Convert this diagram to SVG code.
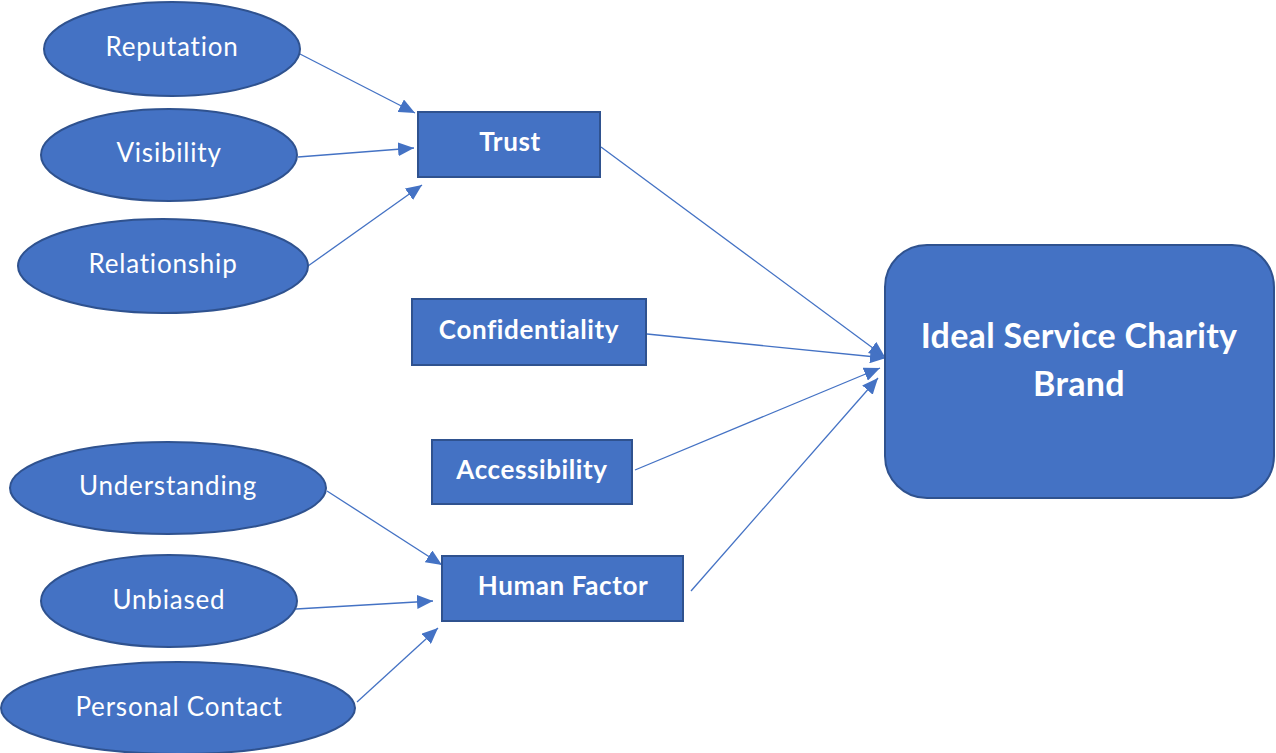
<svg xmlns="http://www.w3.org/2000/svg" width="1276" height="753" viewBox="0 0 1276 753">
  <style>
    .shape { fill: #4472C4; stroke: #2F528F; stroke-width: 2; }
    .lbl { fill: #FFFFFF; font-family: Lato, "Open Sans", "Liberation Sans", sans-serif; font-size: 26px; letter-spacing: 0.8px; text-anchor: middle; }
    .bold { font-weight: bold; letter-spacing: 0.6px; }
    .big { font-size: 34px; font-weight: bold; letter-spacing: 0.3px; }
    .link { stroke: #4472C4; stroke-width: 1.3; fill: none; marker-end: url(#arrow); }
  </style>
  <defs>
    <marker id="arrow" markerUnits="userSpaceOnUse" markerWidth="16" markerHeight="14" refX="16" refY="7" orient="auto">
      <path d="M0,0 L16,7 L0,14 z" fill="#4472C4"/>
    </marker>
  </defs>

  <rect width="1276" height="753" fill="#FFFFFF"/>

  <!-- connectors -->
  <g id="connectors">
    <line class="link" x1="300" y1="54" x2="415" y2="113"/>
    <line class="link" x1="298" y1="157" x2="414" y2="148"/>
    <line class="link" x1="308" y1="266" x2="422" y2="185"/>
    <line class="link" x1="601" y1="147" x2="885" y2="357"/>
    <line class="link" x1="647" y1="334" x2="886" y2="358"/>
    <line class="link" x1="635" y1="470" x2="880" y2="368"/>
    <line class="link" x1="691" y1="591" x2="878" y2="378"/>
    <line class="link" x1="327" y1="491" x2="442" y2="565"/>
    <line class="link" x1="296" y1="609" x2="433" y2="601"/>
    <line class="link" x1="357" y1="702" x2="438" y2="628"/>
  </g>

  <!-- trust drivers -->
  <g id="reputation">
    <ellipse class="shape" cx="172" cy="49" rx="128" ry="47"/>
    <text class="lbl" x="172" y="56">Reputation</text>
  </g>
  <g id="visibility">
    <ellipse class="shape" cx="169" cy="155" rx="128" ry="46"/>
    <text class="lbl" x="169" y="162">Visibility</text>
  </g>
  <g id="relationship">
    <ellipse class="shape" cx="163" cy="266" rx="145" ry="47"/>
    <text class="lbl" x="163" y="273">Relationship</text>
  </g>

  <!-- human factor drivers -->
  <g id="understanding">
    <ellipse class="shape" cx="168" cy="488" rx="158" ry="46"/>
    <text class="lbl" x="168" y="495">Understanding</text>
  </g>
  <g id="unbiased">
    <ellipse class="shape" cx="169" cy="601" rx="128" ry="46"/>
    <text class="lbl" x="169" y="609">Unbiased</text>
  </g>
  <g id="personal-contact">
    <ellipse class="shape" cx="178" cy="708" rx="177" ry="46"/>
    <text class="lbl" x="179" y="716">Personal Contact</text>
  </g>

  <!-- brand dimensions -->
  <g id="trust">
    <rect class="shape" x="418" y="112" width="182" height="65"/>
    <text class="lbl bold" x="510" y="151">Trust</text>
  </g>
  <g id="confidentiality">
    <rect class="shape" x="412" y="299" width="234" height="66"/>
    <text class="lbl bold" x="529" y="339">Confidentiality</text>
  </g>
  <g id="accessibility">
    <rect class="shape" x="432" y="440" width="200" height="64"/>
    <text class="lbl bold" x="532" y="479">Accessibility</text>
  </g>
  <g id="human-factor">
    <rect class="shape" x="442" y="556" width="241" height="65"/>
    <text class="lbl bold" x="563" y="595">Human Factor</text>
  </g>

  <!-- outcome -->
  <g id="ideal-brand">
    <rect class="shape" x="885" y="245" width="389" height="253" rx="42" ry="42"/>
    <text class="lbl big" x="1079" y="348">Ideal Service Charity</text>
    <text class="lbl big" x="1079" y="396">Brand</text>
  </g>
</svg>
